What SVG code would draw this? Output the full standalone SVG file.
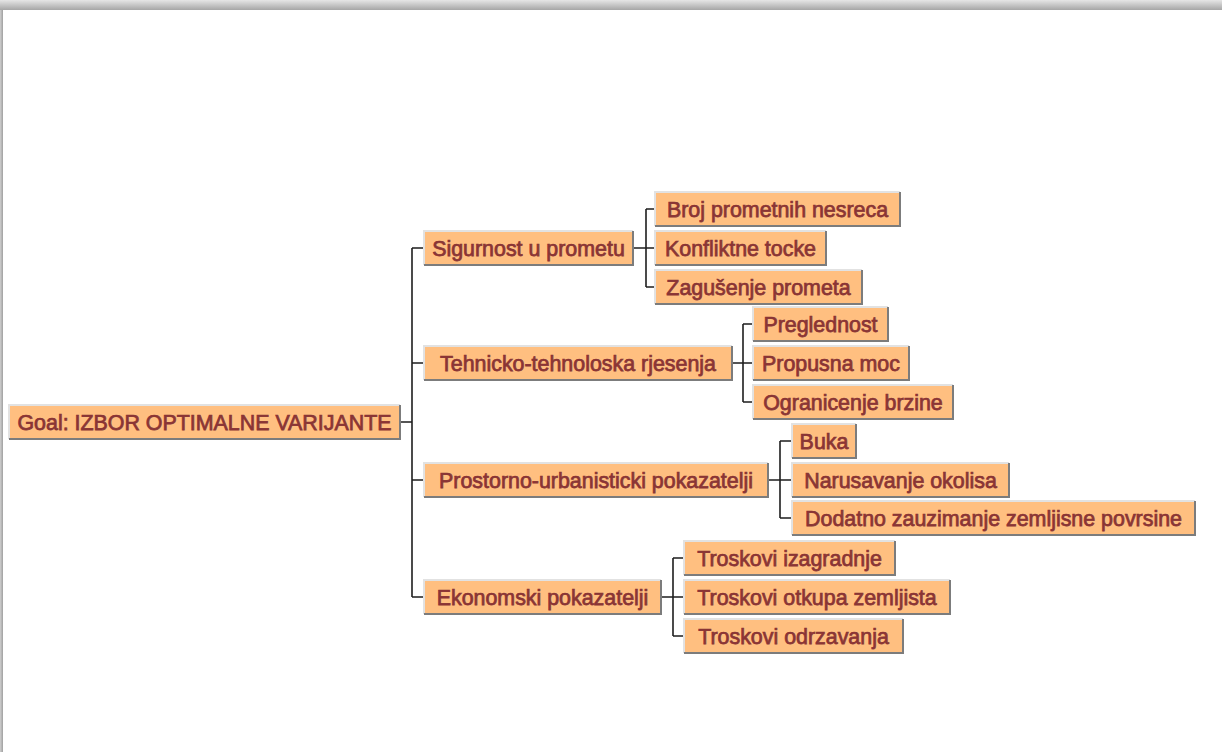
<svg xmlns="http://www.w3.org/2000/svg" width="1222" height="752" viewBox="0 0 1222 752">
<defs>
<linearGradient id="topShadow" x1="0" y1="0" x2="0" y2="1">
<stop offset="0" stop-color="#e6e6e6"/>
<stop offset="1" stop-color="#a6a6a6"/>
</linearGradient>
<linearGradient id="leftShadow" x1="0" y1="0" x2="1" y2="0">
<stop offset="0" stop-color="#cfcfcf"/>
<stop offset="1" stop-color="#a0a0a0"/>
</linearGradient>
</defs>
<style>
.box rect.fill{fill:#FFBF80;}
.box .hl{stroke:#e2e2e2;stroke-width:2;fill:none;}
.box .sh{stroke:#7c7c7c;stroke-width:2;fill:none;}
.box text{font-family:"Liberation Sans",Arial,sans-serif;font-size:21.4px;fill:#8A3535;stroke:#8A3535;stroke-width:0.75;text-anchor:middle;}
#connectors path{stroke:#1e1e1e;stroke-width:1.6;fill:none;}
</style>
<rect x="0" y="0" width="1222" height="752" fill="#ffffff"/>
<rect x="0" y="0" width="1222" height="10" fill="url(#topShadow)"/>
<rect x="0" y="10" width="3" height="742" fill="url(#leftShadow)"/>

<g id="connectors">
<path d="M400 422H412M412 248V597M412 248H424M412 363H424M412 480H424M412 597H424"/>
<path d="M633 248H655M646 209V287M646 209H655M646 287H655"/>
<path d="M732 363H753M743 324V402M743 324H753M743 402H753"/>
<path d="M768 480H792M780 441V518M780 441H792M780 518H792"/>
<path d="M661 597H684M673 558V636M673 558H684M673 636H684"/>
</g>

<g id="goal" class="box">
<rect class="fill" x="9" y="405" width="391" height="34"/>
<path class="hl" d="M9 439V405H400"/>
<path class="sh" d="M400 405V439H9"/>
<text x="204.5" y="430">Goal: IZBOR OPTIMALNE VARIJANTE</text>
</g>

<g id="sigurnost" class="box">
<rect class="fill" x="424" y="231" width="209" height="34"/>
<path class="hl" d="M424 265V231H633"/>
<path class="sh" d="M633 231V265H424"/>
<text x="528.5" y="256">Sigurnost u prometu</text>
</g>

<g id="tehnicko" class="box">
<rect class="fill" x="424" y="346" width="308" height="34"/>
<path class="hl" d="M424 380V346H732"/>
<path class="sh" d="M732 346V380H424"/>
<text x="578" y="371">Tehnicko-tehnoloska rjesenja</text>
</g>

<g id="prostorno" class="box">
<rect class="fill" x="424" y="463" width="344" height="34"/>
<path class="hl" d="M424 497V463H768"/>
<path class="sh" d="M768 463V497H424"/>
<text x="596" y="488">Prostorno-urbanisticki pokazatelji</text>
</g>

<g id="ekonomski" class="box">
<rect class="fill" x="424" y="580" width="237" height="34"/>
<path class="hl" d="M424 614V580H661"/>
<path class="sh" d="M661 580V614H424"/>
<text x="542.5" y="605">Ekonomski pokazatelji</text>
</g>

<g id="broj" class="box">
<rect class="fill" x="655" y="192" width="245" height="34"/>
<path class="hl" d="M655 226V192H900"/>
<path class="sh" d="M900 192V226H655"/>
<text x="777.5" y="217">Broj prometnih nesreca</text>
</g>

<g id="konfliktne" class="box">
<rect class="fill" x="655" y="231" width="171" height="34"/>
<path class="hl" d="M655 265V231H826"/>
<path class="sh" d="M826 231V265H655"/>
<text x="740.5" y="256">Konfliktne tocke</text>
</g>

<g id="zagusenje" class="box">
<rect class="fill" x="655" y="270" width="207" height="34"/>
<path class="hl" d="M655 304V270H862"/>
<path class="sh" d="M862 270V304H655"/>
<text x="758.5" y="295">Zagušenje prometa</text>
</g>

<g id="preglednost" class="box">
<rect class="fill" x="753" y="307" width="135" height="34"/>
<path class="hl" d="M753 341V307H888"/>
<path class="sh" d="M888 307V341H753"/>
<text x="820.5" y="332">Preglednost</text>
</g>

<g id="propusna" class="box">
<rect class="fill" x="753" y="346" width="156" height="34"/>
<path class="hl" d="M753 380V346H909"/>
<path class="sh" d="M909 346V380H753"/>
<text x="831" y="371">Propusna moc</text>
</g>

<g id="ogranicenje" class="box">
<rect class="fill" x="753" y="385" width="200" height="34"/>
<path class="hl" d="M753 419V385H953"/>
<path class="sh" d="M953 385V419H753"/>
<text x="853" y="410">Ogranicenje brzine</text>
</g>

<g id="buka" class="box">
<rect class="fill" x="792" y="424" width="64" height="34"/>
<path class="hl" d="M792 458V424H856"/>
<path class="sh" d="M856 424V458H792"/>
<text x="824" y="449">Buka</text>
</g>

<g id="narusavanje" class="box">
<rect class="fill" x="792" y="463" width="217" height="34"/>
<path class="hl" d="M792 497V463H1009"/>
<path class="sh" d="M1009 463V497H792"/>
<text x="900.5" y="488">Narusavanje okolisa</text>
</g>

<g id="dodatno" class="box">
<rect class="fill" x="792" y="501" width="403" height="34"/>
<path class="hl" d="M792 535V501H1195"/>
<path class="sh" d="M1195 501V535H792"/>
<text x="993.5" y="526">Dodatno zauzimanje zemljisne povrsine</text>
</g>

<g id="izgradnje" class="box">
<rect class="fill" x="684" y="541" width="211" height="34"/>
<path class="hl" d="M684 575V541H895"/>
<path class="sh" d="M895 541V575H684"/>
<text x="789.5" y="566">Troskovi izagradnje</text>
</g>

<g id="otkupa" class="box">
<rect class="fill" x="684" y="580" width="266" height="34"/>
<path class="hl" d="M684 614V580H950"/>
<path class="sh" d="M950 580V614H684"/>
<text x="817" y="605">Troskovi otkupa zemljista</text>
</g>

<g id="odrzavanja" class="box">
<rect class="fill" x="684" y="619" width="219" height="34"/>
<path class="hl" d="M684 653V619H903"/>
<path class="sh" d="M903 619V653H684"/>
<text x="793.5" y="644">Troskovi odrzavanja</text>
</g>
</svg>
